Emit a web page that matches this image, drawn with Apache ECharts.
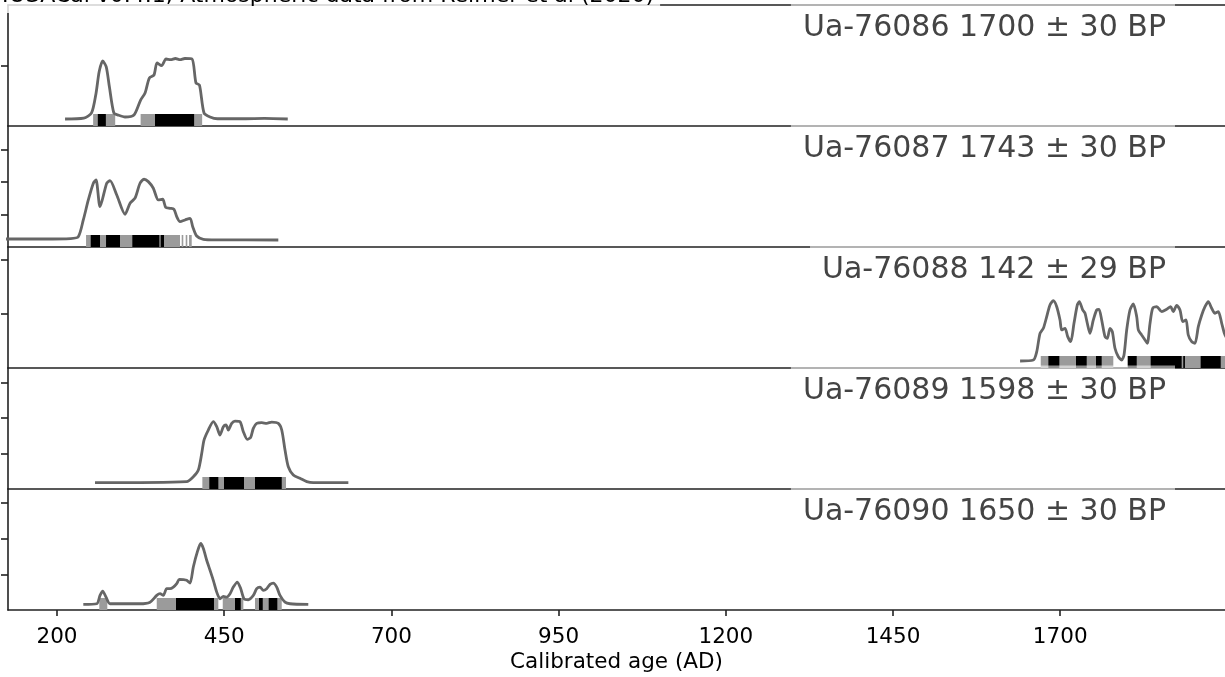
<!DOCTYPE html>
<html><head><meta charset="utf-8">
<script src="https://cdn.jsdelivr.net/npm/echarts@6/dist/echarts.min.js"></script>
<style>html,body{margin:0;padding:0;background:#fff}#c{width:1225px;height:677px}</style>
</head><body><div id="c"></div>
<script>
// ---------- data ----------
const xTicks = [200, 450, 700, 950, 1200, 1450, 1700];
const headerText = 'IOSACal v0.4.1; Atmospheric data from Reimer et al (2020)';
const panelLabels = ['Ua-76086 1700 ± 30 BP', 'Ua-76087 1743 ± 30 BP', 'Ua-76088 142 ± 29 BP', 'Ua-76089 1598 ± 30 BP', 'Ua-76090 1650 ± 30 BP'];
const yMax = [2.007, 3.72, 2.24, 3.41, 3.39];
const yTicks = [[1], [1, 2, 3], [1, 2], [1, 2, 3], [1, 2, 3]];

const p1Years = [212,240,251.6,258.3,263,268.3,273.6,278.3,285,291.7,301.7,315,325,331.6,338,345,349.5,356.4,363,370,377,384,391,401.9,407.8,413,419.8,428.8,440,480,510,545];
const p1Dens  = [0.116,0.13,0.216,0.54,0.9,1.078,0.98,0.65,0.216,0.18,0.149,0.182,0.431,0.547,0.796,0.846,1.045,1.0,1.111,1.1,1.12,1.1,1.12,1.111,0.713,0.68,0.216,0.149,0.12,0.12,0.125,0.116];
const p1Hpd95 = [[254,287],[325,417]];
const p1Hpd68 = [[261,273],[346.5,405]];

const p2Years = [120,180,220,231.8,239.3,246.8,254.3,258.3,264.3,274.3,279.2,289.3,301.7,309.2,316.6,324.1,330.1,336.5,344,351.5,358,362.5,369,374.9,379,383.9,391.4,398.9,402.9,408.9,418.7,440,530.9];
const p2Dens  = [0.246,0.246,0.26,0.317,0.831,1.446,1.96,2.06,1.24,1.96,2.04,1.6,1.006,1.345,1.5,1.96,2.083,2.01,1.806,1.446,1.468,1.22,1.19,1.16,0.932,0.778,0.831,0.883,0.625,0.338,0.237,0.22,0.215];
const p2Hpd95 = [[243.4,383.9],[386.4,388.8],[392.4,394.8],[397.4,401.4]];
const p2Hpd68 = [[250.4,264.3],[273.3,294.2],[312.6,353],[355,360]];

const p3Years = [1640,1659.8,1664.9,1669.8,1674.8,1679.8,1684.7,1689.7,1694.8,1699.7,1702.2,1707.2,1711.2,1715.7,1720.6,1725.6,1728.6,1733.6,1737.1,1740.5,1744.5,1749.5,1754.5,1758,1762,1767,1770.4,1774.4,1777.9,1781.9,1786.9,1791.9,1795.4,1799.4,1804.3,1809.3,1814.4,1816.8,1821.8,1826.8,1830.2,1834.3,1838.3,1844.3,1851.8,1859.2,1865.2,1869.1,1874.2,1879.1,1883.2,1888.1,1891.5,1896.6,1901.5,1906.5,1911.6,1916.5,1921.4,1926.5,1931.5,1936.4,1941.5,1946.4,1955];
const p3Dens  = [0.13,0.148,0.302,0.643,0.735,0.95,1.167,1.246,1.135,0.889,0.704,0.735,0.58,0.487,0.828,1.167,1.228,1.074,1.013,0.828,0.643,0.889,1.074,1.087,0.889,0.58,0.55,0.735,0.672,0.365,0.209,0.148,0.241,0.704,1.074,1.185,0.95,0.704,0.611,0.519,0.457,0.828,1.106,1.135,1.043,1.087,1.135,1.043,1.161,1.074,0.857,0.889,0.611,0.487,0.457,0.765,0.981,1.135,1.228,1.106,1.013,1.043,0.828,0.611,0.45];
const p3Hpd95 = [[1670.9,1779.4],[1801,1960]];
const p3Hpd68 = [[1682.3,1698.7],[1723.6,1739.6],[1753.5,1762],[1801,1814.4],[1835.3,1881.6],[1884,1886.5],[1910,1940]];

const p4Years = [256.8,393.9,403.8,411.3,416.4,419.8,426.2,433.7,438.8,443.7,448.7,452.7,456.1,461.2,466.1,473.6,478.6,484.5,489.6,493.5,498.6,506.1,513.5,521,530.9,536,540.9,545.8,553.3,563.3,573.4,583.2,635.6];
const p4Dens  = [0.177,0.206,0.346,0.535,1.006,1.38,1.662,1.896,1.755,1.521,1.755,1.803,1.662,1.851,1.915,1.896,1.614,1.4,1.456,1.71,1.851,1.868,1.851,1.887,1.851,1.662,1.099,0.628,0.394,0.301,0.206,0.177,0.177];
const p4Hpd95 = [[417.3,542.4]];
const p4Hpd68 = [[427.7,441.2],[449.7,479.6],[496,536]];

const p5Years = [239.3,259.4,264.3,268.3,273.3,279.3,324.1,339.1,349.1,354,358.9,364,369,373.9,379,382.9,388.8,393.9,398.9,403.8,409.8,414.9,418.8,423.8,428.8,433.7,438.8,443.7,448.7,453.7,458.7,463.6,469.6,474.7,479.6,486,493.5,498.6,503.5,508.5,513.5,518.5,523.4,528.5,533.4,540.9,548.4,575.7];
const p5Dens  = [0.155,0.175,0.408,0.53,0.361,0.175,0.175,0.22,0.408,0.456,0.408,0.597,0.597,0.642,0.738,0.859,0.851,0.831,0.755,1.206,1.628,1.865,1.724,1.394,1.113,0.831,0.501,0.315,0.38,0.361,0.456,0.642,0.783,0.597,0.315,0.287,0.408,0.597,0.642,0.549,0.597,0.718,0.755,0.642,0.408,0.22,0.175,0.155];
const p5Hpd95 = [[263.2,275.2],[349.1,441.2],[447.8,478.6],[496,536]];
const p5Hpd68 = [[377.9,434.7],[466.1,474.7],[502,507.6],[516.5,529.4]];

const panels = [
  {years: p1Years, dens: p1Dens, hpd95: p1Hpd95, hpd68: p1Hpd68},
  {years: p2Years, dens: p2Dens, hpd95: p2Hpd95, hpd68: p2Hpd68},
  {years: p3Years, dens: p3Dens, hpd95: p3Hpd95, hpd68: p3Hpd68},
  {years: p4Years, dens: p4Dens, hpd95: p4Hpd95, hpd68: p4Hpd68},
  {years: p5Years, dens: p5Dens, hpd95: p5Hpd95, hpd68: p5Hpd68}
];

// ---------- layout / style ----------
const X_MIN = 126.7, X_MAX = 1946.4;
const GRID_TOP0 = 5, GRID_H = 121, GRID_LEFT = 8;
const FONT = 'DejaVu Sans';
const AX = {color: '#222', width: 1.6};
const BAR_H = 12;

const chart = echarts.init(document.getElementById('c'), null, {renderer: 'canvas'});

const grids = [], xAxes = [], yAxes = [], series = [], titles = [];
panels.forEach((p, i) => {
  const top = GRID_TOP0 + i * GRID_H;
  const last = i === panels.length - 1;
  grids.push({left: GRID_LEFT, right: 0, top: top, height: GRID_H, outerBoundsMode: 'none', containLabel: false});
  xAxes.push({
    type: 'value', gridIndex: i, min: X_MIN, max: X_MAX, position: 'bottom',
    axisLine: {show: true, onZero: false, lineStyle: AX},
    axisTick: {show: last, length: 6, lineStyle: AX, customValues: xTicks},
    axisLabel: {show: last, customValues: xTicks, formatter: v => String(v), fontFamily: FONT, fontSize: 21.5, color: '#000', margin: 16},
    splitLine: {show: false},
    name: last ? 'Calibrated age (AD)' : '', nameLocation: 'middle', nameGap: 41,
    nameTextStyle: {fontFamily: FONT, fontSize: 21.5, color: '#000'}
  });
  yAxes.push({
    type: 'value', gridIndex: i, min: 0, max: yMax[i],
    axisLine: {show: true, onZero: false, lineStyle: AX},
    axisTick: {show: true, length: 7, lineStyle: AX, customValues: yTicks[i]},
    axisLabel: {show: false},
    splitLine: {show: false}
  });
  const barData = p.hpd95.map(r => [r[0], r[1], 0]).concat(p.hpd68.map(r => [r[0], r[1], 1]));
  series.push({
    type: 'custom', xAxisIndex: i, yAxisIndex: i, z: 2,
    dimensions: ['start', 'end', 'kind'],
    encode: {x: [0, 1], y: 2},
    data: barData,
    renderItem: function (params, api) {
      const a = api.coord([api.value(0), 0]);
      const b = api.coord([api.value(1), 0]);
      const rect = echarts.graphic.clipRectByRect(
        {x: a[0], y: a[1] - BAR_H, width: b[0] - a[0], height: BAR_H},
        {x: params.coordSys.x, y: params.coordSys.y, width: params.coordSys.width, height: params.coordSys.height});
      if (!rect) return null;
      return {type: 'rect', shape: rect, style: {fill: api.value(2) === 1 ? '#000000' : '#9b9b9b'}};
    },
    silent: true
  });
  series.push({
    type: 'line', xAxisIndex: i, yAxisIndex: i, z: 3,
    data: p.years.map((y, k) => [y, p.dens[k]]),
    showSymbol: false, smooth: 0.25, clip: true,
    lineStyle: {color: '#666666', width: 2.8},
    silent: true
  });
  titles.push({
    text: panelLabels[i], right: 50, top: top - 2.5, z: 10,
    backgroundColor: 'rgba(255,255,255,0.55)', padding: [11, 9, 6, 12],
    textStyle: {fontFamily: FONT, fontSize: 30, fontWeight: 'normal', color: '#444', lineHeight: 30}
  });
});
// top border of the first panel
xAxes.push({
  type: 'value', gridIndex: 0, min: X_MIN, max: X_MAX, position: 'top',
  axisLine: {show: true, onZero: false, lineStyle: AX},
  axisTick: {show: false}, axisLabel: {show: false}, splitLine: {show: false}
});
titles.push({
  text: headerText, left: 0, top: -15, z: 10,
  backgroundColor: 'rgba(255,255,255,0.8)', padding: [0, 6, 6, 2],
  textStyle: {fontFamily: FONT, fontSize: 22, fontWeight: 'normal', color: '#000', lineHeight: 22}
});

chart.setOption({
  animation: false,
  backgroundColor: '#fff',
  title: titles,
  grid: grids,
  xAxis: xAxes,
  yAxis: yAxes,
  series: series
});
</script></body></html>
